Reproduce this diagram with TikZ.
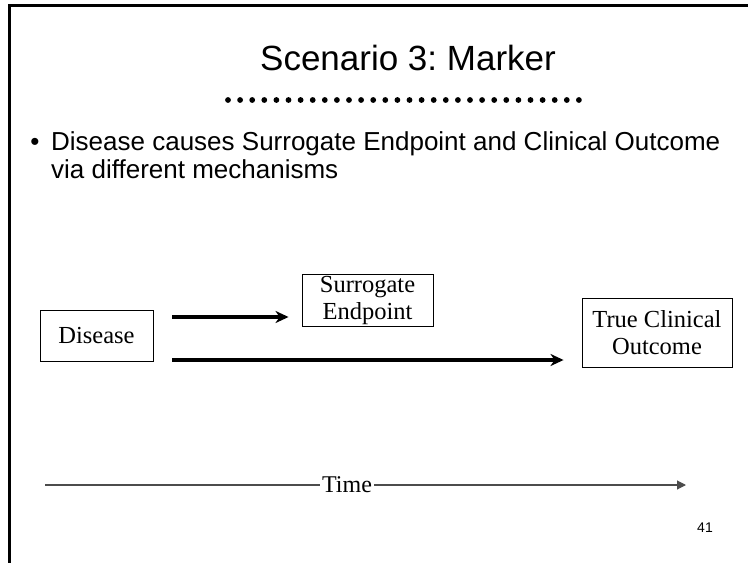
\documentclass[tikz,border=0pt]{standalone}
\usepackage{fontspec}
\setmainfont{Liberation Serif}
\newfontfamily\slidesans{Liberation Sans}
\usetikzlibrary{arrows.meta}

\tikzset{
  stagebox/.style={draw=black, line width=0.9pt, inner sep=2pt, align=center,
    font=\fontsize{24.5}{27}\selectfont},
  causal/.style={line width=3.3pt, -{Stealth[length=13pt,width=12pt,inset=4pt]}},
  timeline/.style={line width=1.1pt, draw=black!70},
  frameline/.style={line width=2.6pt, black}
}

\begin{document}
\frenchspacing
\begin{tikzpicture}[x=1pt,y=-1pt]
\useasboundingbox (0,0) rectangle (748,563);

% slide frame (top and left edges)
\draw[frameline] (9.5,563) -- (9.5,5.5) -- (748,5.5);

% title and dotted rule
\node[font=\slidesans\fontsize{35}{40}\selectfont] (title) at (408,58) {Scenario 3: Marker};
\foreach \k in {0,...,29}
  \fill (228+12.1*\k,100) circle (2.9);

% bullet
\node[font=\slidesans\fontsize{26}{28}\selectfont] (dot) at (35,144) {\textbullet};
\node[anchor=north west, align=left, inner sep=0pt,
      font=\slidesans\fontsize{26}{28}\selectfont] (bullet) at (51,131)
  {Disease causes Surrogate Endpoint and Clinical Outcome\\via different mechanisms};

% stages
\node[stagebox, minimum width=113pt, minimum height=51pt] (disease) at (96.5,335.5) {Disease};
\node[stagebox, minimum width=131pt, minimum height=45pt] (surrogate) at (367.5,300.5) {Surrogate\\Endpoint};
\node[stagebox, minimum width=150pt, minimum height=69pt] (outcome) at (657,332.5) {True Clinical\\Outcome};

% causal paths
\draw[causal] ([xshift=19pt,yshift=18.5pt]disease.east) -- ([xshift=-13pt,yshift=-16.5pt]surrogate.west);
\draw[causal] ([xshift=19pt,yshift=-24.5pt]disease.east) -- ([xshift=-18pt,yshift=-27.5pt]outcome.west);

% time axis
\node[inner sep=2pt, font=\fontsize{24}{26}\selectfont] (time) at (347,485) {Time};
\coordinate (tstart) at (45,485);
\coordinate (tend) at (686,485);
\draw[timeline] (tstart) -- (time.west);
\draw[timeline, -{Triangle[length=9pt,width=9pt]}] (time.east) -- (tend);

% page number
\node[font=\slidesans\fontsize{14}{16}\selectfont] (page) at (705,528) {41};
\end{tikzpicture}
\end{document}
